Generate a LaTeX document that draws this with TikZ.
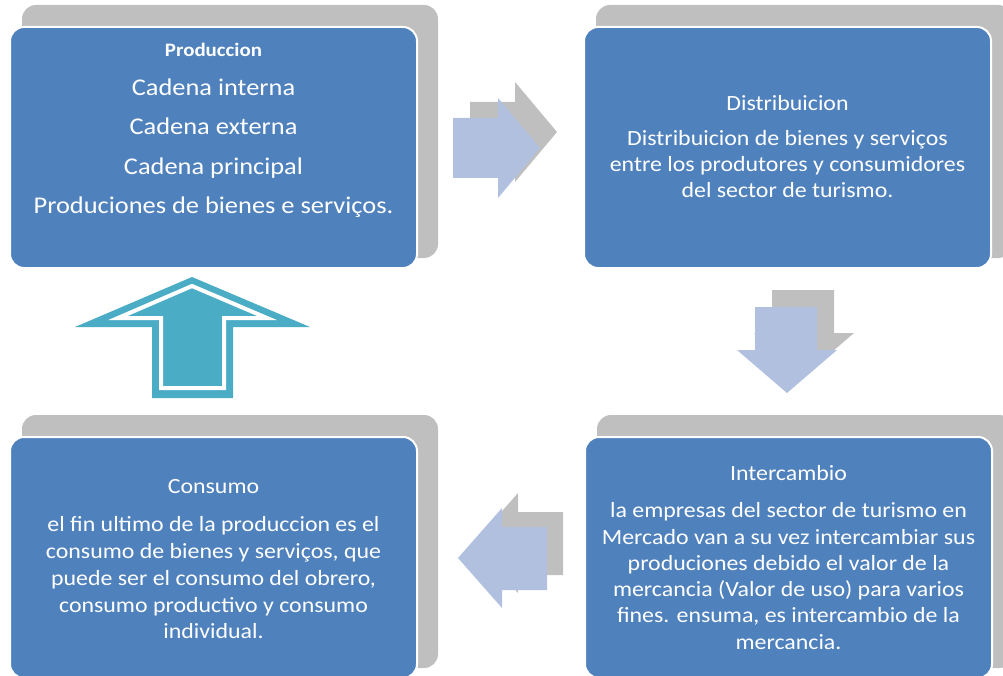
\documentclass[tikz,border=0pt]{standalone}
\usepackage{fontspec}
\setmainfont{Carlito}[FakeStretch=1.1]
\usetikzlibrary{positioning, calc, backgrounds}

\definecolor{boxblue}{HTML}{4F81BD}
\definecolor{shadowgray}{HTML}{BFBFBF}
\definecolor{arrowblue}{HTML}{B0C0DE}
\definecolor{arrowteal}{HTML}{4BACC6}

\begin{document}
\begin{tikzpicture}[
            x = 1pt, y = -1pt, % pixel grid, y downwards
            every node/.style = {inner sep = 0pt},
            line join = miter
        ]

        \tikzstyle{stage}=[
            draw = white,
            line width = 2pt,
            fill = boxblue,
            rounded corners = 14pt,
            minimum width = 407pt,
            minimum height = 241pt
        ]
        \tikzstyle{title}=[
            text = white,
            font = \fontsize{21.7}{26}\selectfont
        ]
        \tikzstyle{body}=[
            text = white,
            align = center,
            anchor = north,
            font = \fontsize{21.7}{26.3}\selectfont
        ]

	\useasboundingbox (0,0) rectangle (1003,676);

	\node[stage] (prod) at (213.5,147.5) {};
	\node[stage] (dist) at (787.5,147.5) {};
	\node[stage] (cons) at (213.5,557.5) {};
	\node[stage] (inter) at (788.5,557.5) {};

	% gray shadows behind the stages
	\begin{scope}[on background layer]
	\foreach \s in {prod, dist, cons, inter}
	    \fill[shadowgray, rounded corners = 14pt]
	        ($(\s.north west)+(13,-21)$) rectangle ($(\s.south east)+(20,-11)$);
	\end{scope}

	% texts
	\node[title, font = \bfseries\fontsize{19}{23}\selectfont] (prodhead) at (213.5,50) {Produccion};
	\node[body, font = \fontsize{24}{39.5}\selectfont] (prodtext) at (213.5,78.5)
	    {Cadena interna\\Cadena externa\\Cadena principal\\Produciones de bienes e serviços.};

	\node[title, anchor = north] (disthead) at (787.5,95.5) {Distribuicion};
	\node[body] (disttext) at (787.5,130)
	    {Distribuicion de bienes y serviços\\entre los produtores y consumidores\\del sector de turismo.};

	\node[title, anchor = north] (interhead) at (788.5,465) {Intercambio};
	\node[body] (intertext) at (788.5,502.5)
	    {la empresas del sector de turismo en\\Mercado van a su vez intercambiar sus\\produciones debido el valor de la\\mercancia (Valor de uso) para varios\\fines. ensuma, es intercambio de la\\mercancia.};

	\node[title, anchor = north] (conshead) at (213.5,479.5) {Consumo};
	\node[body, font = \fontsize{21.7}{26.8}\selectfont] (constext) at (213.5,516.5)
	    {el fin ultimo de la produccion es el\\consumo de bienes y serviços, que\\puede ser el consumo del obrero,\\consumo productivo y consumo\\individual.};

	% block arrows: gray copy first, light blue on top
	\fill[shadowgray] (470,102) -- (515,102) -- (515,82) -- (557,132) -- (515,182) -- (515,162) -- (470,162) -- cycle;
	\fill[arrowblue] (453,118) -- (498,118) -- (498,98) -- (540,148) -- (498,198) -- (498,178) -- (453,178) -- cycle;

	\fill[shadowgray] (772,290) -- (834,290) -- (834,333) -- (854,333) -- (804,376) -- (754,333) -- (772,333) -- cycle;
	\fill[arrowblue] (755,307) -- (817,307) -- (817,350) -- (837,350) -- (787,393) -- (737,350) -- (755,350) -- cycle;

	\fill[shadowgray] (563,512) -- (518,512) -- (518,493) -- (474,543) -- (518,593) -- (518,575) -- (563,575) -- cycle;
	\fill[arrowblue] (547,527) -- (502,527) -- (502,508) -- (458,558) -- (502,608) -- (502,590) -- (547,590) -- cycle;

	% up arrow with inner outline
	\fill[arrowteal] (152,398) -- (152,327) -- (75,327) -- (192,277) -- (310,327) -- (233,327) -- (233,398) -- cycle;
	\draw[white, line width = 4pt, fill = arrowteal] (161,388) -- (161,318) -- (118,318) -- (192,286) -- (267,318) -- (224,318) -- (224,388) -- cycle;

    \end{tikzpicture}
\end{document}
